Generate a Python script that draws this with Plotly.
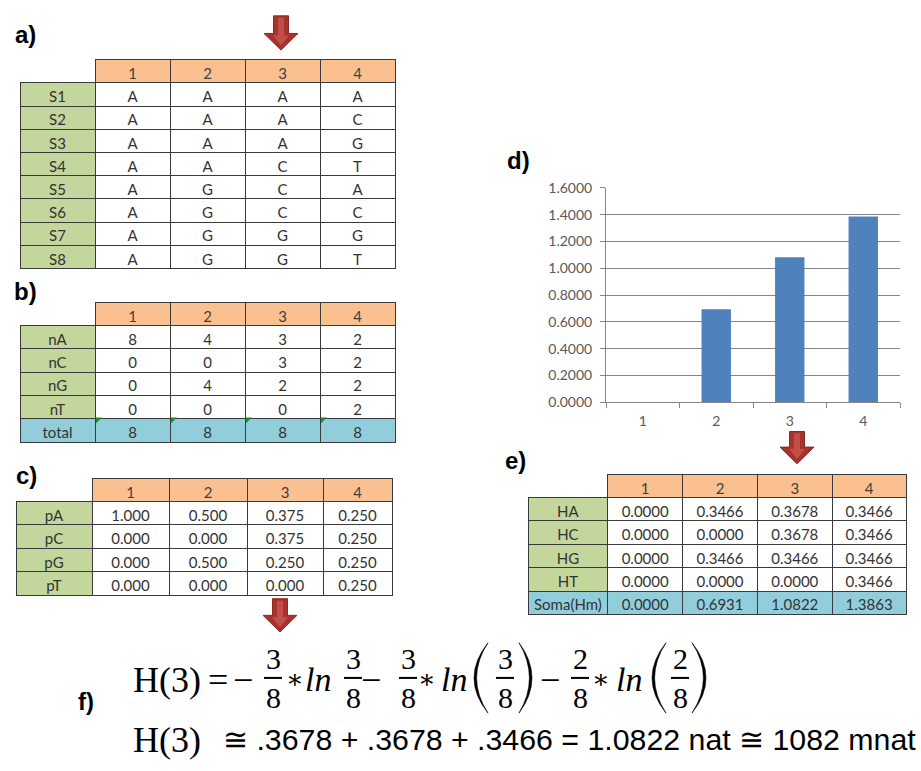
import plotly.graph_objects as go

# ---------------- data ----------------
positions = ["1", "2", "3", "4"]

seq_names = ["S1", "S2", "S3", "S4", "S5", "S6", "S7", "S8"]
seq_pos1 = ["A", "A", "A", "A", "A", "A", "A", "A"]
seq_pos2 = ["A", "A", "A", "A", "G", "G", "G", "G"]
seq_pos3 = ["A", "A", "A", "C", "C", "C", "G", "G"]
seq_pos4 = ["A", "C", "G", "T", "A", "C", "G", "T"]

count_labels = ["nA", "nC", "nG", "nT", "total"]
nA = [8, 4, 3, 2]
nC = [0, 0, 3, 2]
nG = [0, 4, 2, 2]
nT = [0, 0, 0, 2]
n_total = [8, 8, 8, 8]

prob_labels = ["pA", "pC", "pG", "pT"]
pA = [1.000, 0.500, 0.375, 0.250]
pC = [0.000, 0.000, 0.375, 0.250]
pG = [0.000, 0.500, 0.250, 0.250]
pT = [0.000, 0.000, 0.000, 0.250]

ent_labels = ["HA", "HC", "HG", "HT", "Soma(Hm)"]
HA = [0.0000, 0.3466, 0.3678, 0.3466]
HC = [0.0000, 0.0000, 0.3678, 0.3466]
HG = [0.0000, 0.3466, 0.3466, 0.3466]
HT = [0.0000, 0.0000, 0.0000, 0.3466]
H_sum = [0.0000, 0.6931, 1.0822, 1.3863]

ytick_vals = [0.0, 0.2, 0.4, 0.6, 0.8, 1.0, 1.2, 1.4, 1.6]

# ---------------- helpers / style ----------------
W, H = 921, 771


def px(x):
    return x / W


def py(y):
    return 1 - y / H


ORANGE = "#FAC090"
GREEN = "#C3D69B"
BLUE = "#92CDDC"
WHITE = "#FFFFFF"
BORDER = "#3A3A3A"
TXT = "#333333"
NONE = "rgba(0,0,0,0)"
TFONT = "Lato, Carlito, 'Open Sans', sans-serif"


def make_table(rows_by_label, labels, edges, top, header_h, cell_h, fills_rows):
    ncol = len(positions)
    cols = [labels] + [[r[c] for r in rows_by_label] for c in range(ncol)]
    label_fill = [GREEN if f == WHITE else f for f in fills_rows]
    fills = [label_fill] + [fills_rows for _ in range(ncol)]
    widths = [edges[i + 1] - edges[i] for i in range(len(edges) - 1)]
    nrows = len(labels)
    bottom = top + header_h + cell_h * nrows + 30
    return go.Table(
        domain=dict(x=[px(edges[0]), px(edges[-1])], y=[py(bottom), py(top)]),
        columnwidth=widths,
        header=dict(
            values=[""] + positions,
            fill=dict(color=[NONE] + [ORANGE] * ncol),
            line=dict(color=[NONE] + [BORDER] * ncol, width=1),
            font=dict(family=TFONT, size=15, color="#404040"),
            align="center",
            height=header_h,
        ),
        cells=dict(
            values=cols,
            fill=dict(color=fills),
            line=dict(color=BORDER, width=1),
            font=dict(family=TFONT, size=15, color=TXT),
            align="center",
            height=cell_h,
        ),
    )


traces = []

# table a
rows_a = [[seq_pos1[i], seq_pos2[i], seq_pos3[i], seq_pos4[i]] for i in range(len(seq_names))]
traces.append(make_table(rows_a, seq_names, [20, 95, 170, 245, 320, 395], 52, 23, 23.2,
                         [WHITE] * len(seq_names)))

# table b
B_EDGES = [20, 95, 170, 245, 320, 395]
B_TOP, B_HH, B_CH = 300, 23, 23.4
rows_b = [[str(v) for v in r] for r in [nA, nC, nG, nT, n_total]]
traces.append(make_table(rows_b, count_labels, B_EDGES, B_TOP, B_HH, B_CH,
                         [WHITE] * 4 + [BLUE]))

# table c
rows_c = [[f"{v:.3f}" for v in r] for r in [pA, pC, pG, pT]]
traces.append(make_table(rows_c, prob_labels, [16, 92, 169, 247, 323, 392], 480, 23, 23.5,
                         [WHITE] * 4))

# table e
rows_e = [[f"{v:.4f}" for v in r] for r in [HA, HC, HG, HT, H_sum]]
traces.append(make_table(rows_e, ent_labels, [528, 608, 683, 758, 833, 907], 476, 23, 23.4,
                         [WHITE] * 4 + [BLUE]))

# bar chart d
traces.append(go.Bar(x=positions, y=H_sum, marker=dict(color="#4F81BD", line=dict(width=0)),
                     hoverinfo="x+y"))

fig = go.Figure(traces)

GRID = "#868686"
CFONT = dict(family=TFONT, size=14, color="#595959")
fig.update_layout(
    width=W, height=H,
    margin=dict(l=0, r=0, t=0, b=0),
    paper_bgcolor="white", plot_bgcolor="white",
    showlegend=False,
    bargap=0.6,
    xaxis=dict(domain=[px(606), px(900)], type="category", showgrid=False,
               showline=True, linecolor=GRID, linewidth=1,
               ticks="outside", tickson="boundaries", ticklen=5, tickcolor=GRID,
               ticklabelstandoff=6,
               tickfont=CFONT, fixedrange=True),
    yaxis=dict(domain=[py(402), py(183)], range=[0, 1.6], tickvals=ytick_vals,
               tickformat=".4f", showgrid=True, gridcolor=GRID, gridwidth=1,
               showline=True, linecolor=GRID, linewidth=1, zeroline=False,
               ticks="outside", ticklen=5, tickcolor=GRID, ticklabelstandoff=5,
               tickfont=CFONT, fixedrange=True),
)

# Excel "error indicator" corner flags on the total row of table b
total_row_top = B_TOP + B_HH + B_CH * 4
for xl in B_EDGES[1:5]:
    x0, y0 = xl + 1, total_row_top + 1
    path = (f"M {px(x0):.5f},{py(y0):.5f} L {px(x0 + 6):.5f},{py(y0):.5f} "
            f"L {px(x0):.5f},{py(y0 + 6):.5f} Z")
    fig.add_shape(type="path", path=path, xref="paper", yref="paper",
                  fillcolor="#1E8C2E", line=dict(width=0))

# ---------------- panel labels ----------------
LFONT = dict(family="Liberation Sans, Arial, sans-serif", size=24, color="black")
panel_labels = [("a)", 25, 26), ("b)", 25, 289), ("c)", 26, 477),
                ("d)", 518, 155), ("e)", 515, 462), ("f)", 86, 708)]
for t, x, y in panel_labels:
    fig.add_annotation(text=f"<b>{t}</b>", x=px(x), y=py(y), xref="paper", yref="paper",
                       xanchor="center", yanchor="middle", showarrow=False, font=LFONT)


# ---------------- block arrows ----------------
def arrow_path(cx, top, head, tip, sw=7.5, hw=17):
    pts = [(cx - sw, top), (cx + sw, top), (cx + sw, head), (cx + hw, head), (cx, tip),
           (cx - hw, head), (cx - sw, head)]
    return "M " + " L ".join(f"{px(x):.5f},{py(y):.5f}" for x, y in pts) + " Z"


for cx, top, head, tip in [(281, 7, 25, 42), (280, 603, 620, 637), (797, 432, 448, 465)]:
    fig.add_shape(type="path", path=arrow_path(cx, top, head, tip), xref="paper", yref="paper",
                  fillcolor="#A8322E", line=dict(color="#8E2824", width=1))
    fig.add_shape(type="path", path=arrow_path(cx, top + 2, head + 2, tip - 5, sw=3, hw=8),
                  xref="paper", yref="paper", fillcolor="#C24E4A", line=dict(width=0))

# ---------------- formula f ----------------
SERIF = "Liberation Serif, 'DejaVu Serif', serif"


def txt(t, x, y, size, family=SERIF, anchor="center"):
    fig.add_annotation(text=t, x=px(x), y=py(y), xref="paper", yref="paper",
                       xanchor=anchor, yanchor="middle", showarrow=False,
                       font=dict(family=family, size=size, color="black"))


def frac(num, den, cx, y_mid=684):
    txt(num, cx, y_mid - 20, 30)
    txt(den, cx, y_mid + 20, 30)
    fig.add_shape(type="line", x0=px(cx - 9), x1=px(cx + 9), y0=py(y_mid), y1=py(y_mid),
                  xref="paper", yref="paper", line=dict(color="black", width=2))


def paren(x_end, x_mid, y0=648, y1=720, thick=2.6):
    """Tall stretched bracket drawn as a thin crescent."""
    c_out = 2 * x_mid - x_end
    sgn = 1 if x_mid < x_end else -1
    c_in = c_out + sgn * 2 * thick
    ym = (y0 + y1) / 2
    path = (f"M {px(x_end):.5f},{py(y0):.5f} Q {px(c_out):.5f},{py(ym):.5f} {px(x_end):.5f},{py(y1):.5f} "
            f"Q {px(c_in):.5f},{py(ym):.5f} {px(x_end):.5f},{py(y0):.5f} Z")
    fig.add_shape(type="path", path=path, xref="paper", yref="paper",
                  fillcolor="black", line=dict(color="black", width=0.6))


YL = 686
txt("H(3)", 167, YL, 36)
txt("=", 218, YL, 36)
txt("−", 243, YL, 36)
frac("3", "8", 273)
txt("∗", 295, YL, 26)
txt("<i>ln</i>", 318, YL, 34)
frac("3", "8", 353)
txt("−", 371, YL, 36)
frac("3", "8", 408)
txt("∗", 427, YL, 26)
txt("<i>ln</i>", 454, YL, 34)
paren(488, 474)
frac("3", "8", 505)
paren(519, 532)
txt("−", 550, YL, 36)
frac("2", "8", 580)
txt("∗", 601, YL, 26)
txt("<i>ln</i>", 629, YL, 34)
paren(666, 652)
frac("2", "8", 680)
paren(692, 706)

Y2 = 747
txt("H(3)", 167, Y2, 36)
txt("≅ .3678 + .3678 + .3466 = 1.0822 nat ≅ 1082 mnat", 221, Y2, 30.3,
    family="Liberation Sans, Arial, sans-serif", anchor="left")

fig.write_html("out.html")
